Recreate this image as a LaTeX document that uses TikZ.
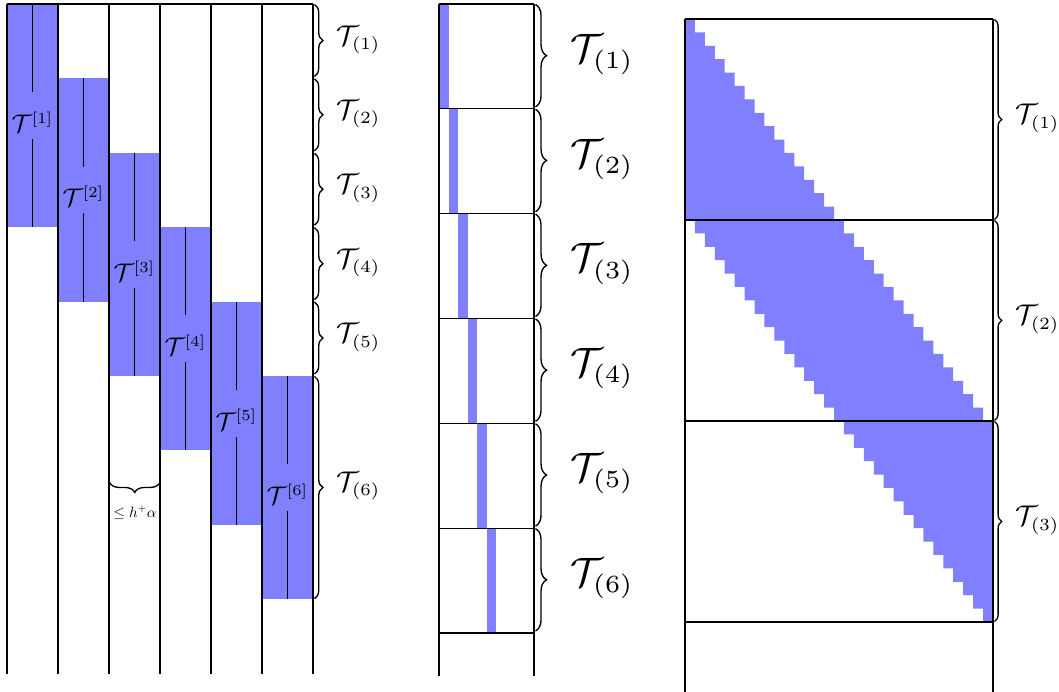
\documentclass[tikz,border=0pt]{standalone}
\usetikzlibrary{decorations.pathreplacing}
\DeclareMathSizes{10}{10}{6}{5}
\begin{document}
\begin{tikzpicture}[x=0.33333pt,y=-0.33333pt,
  gline/.style={line width=0.4pt, black},
  blk/.style={fill=blue!50},
  brc/.style={decorate, decoration={brace, amplitude=#1}, line width=0.45pt},
  labA/.style={anchor=west, inner sep=0pt, scale=0.95},
  labB/.style={anchor=west, inner sep=0pt, scale=1.37},
  blab/.style={fill=blue!50, scale=0.85, inner xsep=1pt, inner ysep=0pt, text height=15.65pt, text depth=2.35pt},
  small/.style={inner sep=0pt, scale=0.5},
]
\useasboundingbox (0,0) rectangle (1059,692);

% ---------------- left panel ----------------
\foreach \i in {1,...,6} {
  \fill[blk] ({7+(\i-1)*51},{4+(\i-1)*74.4}) rectangle ({7+\i*51},{4+(\i+2)*74.4});
}
\foreach \i in {0,...,6} \draw[gline] ({7+\i*51},4) -- ({7+\i*51},673.6);
\draw[gline] (7,4) -- (313,4);
\foreach \i in {1,...,6} {
  \coordinate (lt\i) at ({7+(\i-0.5)*51},{4+(\i-1)*74.4});
  \coordinate (lb\i) at ({7+(\i-0.5)*51},{4+(\i+2)*74.4});
  \node[blab] (bl\i) at ({7+(\i-0.5)*51},{4+(\i+0.5)*74.4}) {$\mathcal{T}^{[\i]}$};
  \draw[gline] (lt\i) -- (bl\i.north);
  \draw[gline] (bl\i.south) -- (lb\i);
}
\foreach \j in {1,...,5} {
  \draw[brc=2.8pt] (314.5,{4+(\j-1)*74.4+0.5}) -- (314.5,{4+\j*74.4-2});
  \node[labA] (L\j) at (336,{4+(\j-0.5)*74.4-1.5}) {$\mathcal{T}_{(\j)}$};
}
\draw[brc=2.8pt] (314.5,{4+5*74.4+0.5}) -- (314.5,{4+8*74.4-0.5});
\node[labA] (L6) at (336,{4+6.5*74.4-1.5}) {$\mathcal{T}_{(6)}$};

\draw[brc=3.3pt] (160,482.5) -- (109.5,482.5);
\node[small] (hb) at (135,512.5) {$\le h^+\alpha$};

% ---------------- middle panel ----------------
\foreach \i in {1,...,6} {
  \fill[blk] ({439+(\i-1)*9.5},{4+(\i-1)*104.83}) rectangle ({439+\i*9.5},{4+\i*104.83});
}
\draw[gline] (439,4) -- (439,676);
\draw[gline] (534,4) -- (534,676);
\foreach \k in {0,...,6} \draw[gline] (439,{4+\k*104.83}) -- (534,{4+\k*104.83});
\foreach \j in {1,...,6} {
  \draw[brc=3.7pt] (535.5,{4+(\j-1)*104.83+0.5}) -- (535.5,{4+\j*104.83-2});
  \node[labB] (M\j) at (570,{4+(\j-0.5)*104.83-2}) {$\mathcal{T}_{(\j)}$};
}

% ---------------- right panel ----------------
\begin{scope}[shift={(685,19)}]
  \fill[blk] (0,0)
    \foreach \k in {1,...,30} { -- ({\k*9.935},{(\k-1)*13.4}) -- ({\k*9.935},{\k*13.4}) }
    -- (308,402) -- (308,603)
    \foreach \j in {30,29,...,1} { -- ({\j*9.935},{(\j+15)*13.4}) -- ({\j*9.935},{(\j+14)*13.4}) }
    -- (0,201) -- cycle;
  \foreach \k in {0,...,3} \draw[gline] (0,{\k*201}) -- (308,{\k*201});
  \draw[gline] (0,0) -- (0,673);
  \draw[gline] (308,0) -- (308,673);
  \foreach \j in {1,2,3} {
    \draw[brc=2.4pt] (309.5,{(\j-1)*201+0.5}) -- (309.5,{\j*201-0.5});
    \node[labA] (R\j) at (330,{(\j-0.5)*201-1}) {$\mathcal{T}_{(\j)}$};
  }
\end{scope}
\end{tikzpicture}
\end{document}
